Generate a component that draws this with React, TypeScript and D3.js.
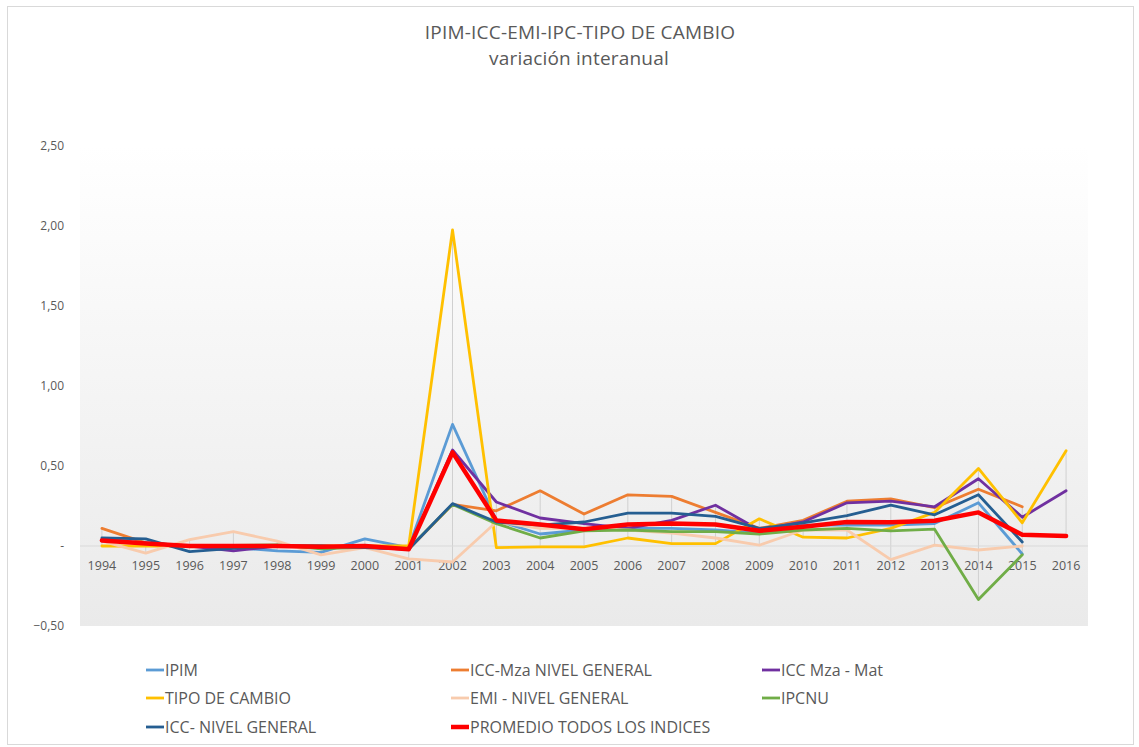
import React from "react";
import * as d3 from "d3";

const years = [
  "1994", "1995", "1996", "1997", "1998", "1999", "2000", "2001", "2002", "2003", "2004", "2005",
  "2006", "2007", "2008", "2009", "2010", "2011", "2012", "2013", "2014", "2015", "2016",
];

// variación interanual por índice (null = sin dato)
const ipim = [0.03, 0.02, 0.0, -0.01, -0.03, -0.04, 0.045, -0.01, 0.76, 0.16, 0.075, 0.1, 0.11, 0.11, 0.1, 0.08, 0.13, 0.13, 0.13, 0.14, 0.27, -0.05, null];
const iccMza = [0.11, 0.02, 0.0, 0.0, 0.0, -0.01, 0.0, -0.02, 0.26, 0.22, 0.345, 0.2, 0.32, 0.31, 0.21, 0.11, 0.16, 0.28, 0.295, 0.24, 0.355, 0.245, null];
const iccMzaMat = [0.04, 0.02, 0.0, -0.03, 0.0, 0.0, -0.01, -0.02, 0.6, 0.275, 0.175, 0.14, 0.11, 0.16, 0.255, 0.1, 0.15, 0.27, 0.28, 0.245, 0.42, 0.18, 0.345];
const tipoCambio = [0.0, 0.0, 0.0, 0.0, 0.0, 0.0, 0.0, 0.0, 1.975, -0.01, -0.005, -0.005, 0.05, 0.015, 0.015, 0.17, 0.055, 0.05, 0.11, 0.21, 0.485, 0.145, 0.595];
const emi = [0.03, -0.045, 0.04, 0.09, 0.03, -0.055, -0.01, -0.08, -0.1, 0.15, 0.11, 0.11, 0.1, 0.08, 0.05, 0.005, 0.1, 0.1, -0.085, 0.005, -0.025, 0.0, null];
const ipcnu = [0.04, 0.016, 0.0, 0.003, 0.007, -0.018, -0.007, -0.015, 0.26, 0.14, 0.05, 0.095, 0.1, 0.09, 0.09, 0.075, 0.1, 0.11, 0.095, 0.105, -0.335, -0.055, null];
const iccNivel = [0.05, 0.045, -0.035, -0.015, 0.0, 0.0, -0.01, -0.02, 0.265, 0.15, 0.13, 0.15, 0.205, 0.205, 0.185, 0.11, 0.145, 0.19, 0.255, 0.195, 0.32, 0.025, null];
const promedio = [0.035, 0.015, 0.0, 0.0, 0.0, -0.005, 0.0, -0.02, 0.585, 0.16, 0.135, 0.105, 0.135, 0.14, 0.135, 0.095, 0.12, 0.15, 0.148, 0.158, 0.21, 0.07, 0.0625];

const yTicks = [-0.5, 0, 0.5, 1, 1.5, 2, 2.5];

const series = [
  { name: "IPIM", values: ipim, color: "#5b9bd5", width: 2.8 },
  { name: "ICC-Mza NIVEL GENERAL", values: iccMza, color: "#ed7d31", width: 2.8 },
  { name: "ICC Mza - Mat", values: iccMzaMat, color: "#7030a0", width: 2.8 },
  { name: "TIPO DE CAMBIO", values: tipoCambio, color: "#ffc000", width: 2.8 },
  { name: "EMI - NIVEL GENERAL", values: emi, color: "#f8cbad", width: 2.8 },
  { name: "IPCNU", values: ipcnu, color: "#70ad47", width: 2.8 },
  { name: "ICC- NIVEL GENERAL", values: iccNivel, color: "#255e91", width: 2.8 },
  { name: "PROMEDIO TODOS LOS INDICES", values: promedio, color: "#ff0000", width: 4.5 },
];

const W = 1139;
const H = 747;
const plot = { left: 80, right: 1088, top: 146, bottom: 626 };
const textColor = "#595959";
const font = "'Open Sans', sans-serif";

export default function App() {
  const x = d3.scalePoint<string>().domain(years).range([plot.left, plot.right]).padding(0.5);
  const y = d3.scaleLinear().domain([-0.5, 2.5]).range([plot.bottom, plot.top]);

  const line = d3
    .line<number | null>()
    .defined((d) => d !== null)
    .x((_, i) => x(years[i]) ?? 0)
    .y((d) => y(d as number));

  const fmt = (v: number) => (v === 0 ? "-" : d3.format(".2f")(v).replace(".", ","));

  // high-low lines
  const hiLo = years.map((yr, i) => {
    const vals = series.map((s) => s.values[i]).filter((v) => v !== null) as number[];
    return { yr, hi: d3.max(vals) ?? 0, lo: d3.min(vals) ?? 0 };
  });

  const legendCols = [146, 451, 762];
  const legendRows = [670, 698, 727];

  return (
    <div style={{ position: "absolute", left: 0, top: 0 }}>
      <svg width={W} height={H} style={{ display: "block", fontFamily: font }}>
        <defs>
          <linearGradient id="plotBg" x1="0" x2="0" y1="0" y2="1">
            <stop offset="0%" stopColor="#ffffff" />
            <stop offset="100%" stopColor="#eaeaea" />
          </linearGradient>
        </defs>
        <rect x={0} y={0} width={W} height={H} fill="#ffffff" />
        <rect x={7.5} y={6.5} width={1126} height={738} fill="#ffffff" stroke="#d9d9d9" />

        <rect
          x={plot.left}
          y={plot.top}
          width={plot.right - plot.left}
          height={plot.bottom - plot.top}
          fill="url(#plotBg)"
        />

        <text x={580} y={39} textAnchor="middle" fontSize={19} letterSpacing={0.2} fill={textColor}>
          IPIM-ICC-EMI-IPC-TIPO  DE CAMBIO
        </text>
        <text x={579} y={65} textAnchor="middle" fontSize={19} letterSpacing={0.2} fill={textColor}>
          variación  interanual
        </text>

        {yTicks.map((t) => (
          <text key={t} x={64} y={y(t) + 4} textAnchor="end" fontSize={12} fill={textColor}>
            {fmt(t)}
          </text>
        ))}

        {hiLo.map((h) => (
          <line
            key={h.yr}
            x1={x(h.yr)}
            x2={x(h.yr)}
            y1={y(h.hi)}
            y2={y(h.lo)}
            stroke="#d0d0d0"
            strokeWidth={1}
          />
        ))}

        <line x1={plot.left} x2={plot.right} y1={y(0)} y2={y(0)} stroke="#d9d9d9" strokeWidth={1} />

        {years.map((yr) => (
          <text key={yr} x={x(yr)} y={y(0) + 24} textAnchor="middle" fontSize={12.5} fill={textColor}>
            {yr}
          </text>
        ))}

        {series.map((s) => (
          <path
            key={s.name}
            d={line(s.values) ?? undefined}
            fill="none"
            stroke={s.color}
            strokeWidth={s.width}
            strokeLinejoin="round"
            strokeLinecap="round"
          />
        ))}

        {series.map((s, i) => {
          const lx = legendCols[i % 3];
          const ly = legendRows[Math.floor(i / 3)];
          return (
            <g key={s.name}>
              <line x1={lx} x2={lx + 18} y1={ly} y2={ly} stroke={s.color} strokeWidth={s.width} />
              <text x={lx + 19} y={ly + 5.5} fontSize={16} fill={textColor}>
                {s.name}
              </text>
            </g>
          );
        })}
      </svg>
    </div>
  );
}
